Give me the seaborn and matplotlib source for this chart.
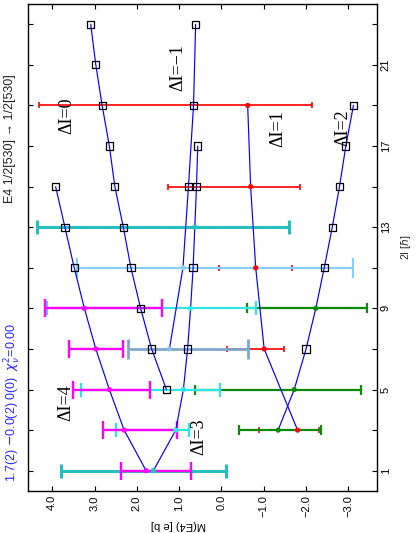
import numpy as np
import pandas as pd
import matplotlib
matplotlib.use("Agg")
import matplotlib.pyplot as plt
import seaborn as sns

# ---- model curves: 2I of the initial state and reduced matrix element M(E4) [e b]
spin_d0 = [23, 21, 19, 17, 15, 13, 11, 9, 7, 5]
m_d0 = [3.09, 2.97, 2.82, 2.65, 2.52, 2.32, 2.14, 1.91, 1.65, 1.30]
spin_dm1 = [23, 19, 15, 11, 7]
m_dm1 = [0.61, 0.66, 0.78, 0.91, 1.23]
spin_d1 = [19, 15, 11, 7, 3]
m_d1 = [-0.62, -0.69, -0.81, -1.01, -1.80]
spin_d2 = [19, 17, 15, 13, 11, 9, 7, 5, 3]
m_d2 = [-3.12, -2.94, -2.79, -2.62, -2.43, -2.23, -2.00, -1.72, -1.34]
spin_d3 = [17, 15, 13, 11, 9, 7, 5, 3, 1]
m_d3 = [0.56, 0.59, 0.63, 0.67, 0.73, 0.80, 0.90, 1.08, 1.61]
spin_d4 = [15, 13, 11, 9, 7, 5, 3, 1]
m_d4 = [3.92, 3.70, 3.48, 3.24, 2.97, 2.65, 2.30, 1.78]

# ---- measured values (centre, upper and lower end of the error bar)
red_spin = [19, 15, 11, 7, 3]
red_m = [-0.62, -0.69, -0.81, -1.01, -1.80]
red_hi = [4.31, 1.27, 0.05, -0.14, -0.89]
red_lo = [-2.15, -1.86, -1.66, -1.48, -2.30]

green_spin = [9, 5, 3]
green_m = [-2.23, -1.72, -1.34]
green_hi = [-0.60, 0.63, -0.41]
green_lo = [-3.43, -3.31, -2.35]

cyan_spin = [9, 5, 3]
cyan_m = [0.73, 0.90, 1.08]
cyan_hi = [4.12, 3.33, 2.50]
cyan_lo = [-0.81, 0.03, 0.76]

teal_spin = [13, 1]
teal_m = [0.63, 1.61]
teal_hi = [4.35, 3.80]
teal_lo = [-1.60, -0.11]

lblue_spin = [11]
lblue_m = [0.91]
lblue_hi = [3.42]
lblue_lo = [-3.12]

sblue_spin = [7]
sblue_m = [1.23]
sblue_hi = [2.20]
sblue_lo = [-0.63]

mag_spin = [9, 7, 5, 3, 1]
mag_m = [3.24, 2.97, 2.65, 2.30, 1.78]
mag_hi = [4.16, 3.60, 3.52, 2.79, 2.38]
mag_lo = [1.41, 2.32, 1.69, 1.06, 0.73]

m_ticks = [4, 3, 2, 1, 0, -1, -2, -3]
m_ticklabels = ["4.0", "3.0", "2.0", "1.0", "0.0", "\u22121.0", "\u22122.0", "\u22123.0"]
spin_ticks = list(range(1, 24, 2))
spin_ticklabels = ["1", "", "5", "", "9", "", "13", "", "17", "", "21", ""]

labels_dI = ["\u0394I=0", "\u0394I=\u22121", "\u0394I=1", "\u0394I=2", "\u0394I=3", "\u0394I=4"]

sns.set_theme(style="white")
plt.rcParams["font.family"] = ["Liberation Sans", "DejaVu Sans"]
plt.rcParams["mathtext.fontset"] = "dejavusans"

fig = plt.figure(figsize=(4.19, 5.33), dpi=100)
W, H = 419, 533
x0, x1, y0, y1 = 27.7, 376.7, 4.0, 491.0
ax = fig.add_axes([x0 / W, 1 - y1 / H, (x1 - x0) / W, (y1 - y0) / H])

# theory curves (the whole figure is drawn turned by 90 degrees:
# M(E4) runs along the horizontal axis, 2I along the vertical one)
curves = pd.concat([
    pd.DataFrame({"twoI": s, "M": m, "curve": k})
    for k, (s, m) in enumerate([(spin_d0, m_d0), (spin_dm1, m_dm1), (spin_d1, m_d1),
                                (spin_d2, m_d2), (spin_d3, m_d3), (spin_d4, m_d4)])
])
sns.lineplot(data=curves, x="M", y="twoI", units="curve", estimator=None, sort=False,
             color="#0000ff", linewidth=0.85, ax=ax, zorder=3)


def bars(spin, m, hi, lo, color, lw, cap, z):
    """Horizontal error bars running from lo to hi around the centre m."""
    m = np.asarray(m)
    hi = np.asarray(hi)
    lo = np.asarray(lo)
    ax.errorbar(m, spin, xerr=[m - lo, hi - m], fmt="none", ecolor=color,
                elinewidth=lw, capsize=cap, capthick=lw, zorder=z)


bars(red_spin, red_m, red_hi, red_lo, "#ff0000", 1.2, 2.4, 2.0)
bars(green_spin, green_m, green_hi, green_lo, "#0a8a0a", 1.6, 3.4, 2.1)
bars(teal_spin, teal_m, teal_hi, teal_lo, "#26bfbf", 2.2, 5.2, 2.2)
bars(cyan_spin, cyan_m, cyan_hi, cyan_lo, "#2ee6e6", 1.6, 4.8, 2.25)
bars(lblue_spin, lblue_m, lblue_hi, lblue_lo, "#87cefa", 1.5, 7.4, 2.3)
bars(sblue_spin, sblue_m, sblue_hi, sblue_lo, "#7fa7ca", 2.0, 7.0, 2.3)
bars(mag_spin, mag_m, mag_hi, mag_lo, "#ff00ff", 1.7, 6.5, 2.4)

# open squares: model values without a measurement
sq = pd.concat([
    pd.DataFrame({"twoI": spin_d0, "M": m_d0}),
    pd.DataFrame({"twoI": spin_dm1[:3], "M": m_dm1[:3]}),
    pd.DataFrame({"twoI": [17, 15, 11, 7], "M": [m_d3[0], m_d3[1], m_d3[3], m_d3[5]]}),
    pd.DataFrame({"twoI": spin_d4[:3], "M": m_d4[:3]}),
    pd.DataFrame({"twoI": [19, 17, 15, 13, 11, 7], "M": m_d2[:5] + [m_d2[6]]}),
])
sns.scatterplot(data=sq, x="M", y="twoI", marker="s", s=27, facecolor="none",
                edgecolor="black", linewidth=0.9, ax=ax, zorder=4)

# filled dots: model values at the measured points
dots = pd.concat([
    pd.DataFrame({"twoI": red_spin, "M": red_m, "set": "red"}),
    pd.DataFrame({"twoI": green_spin, "M": green_m, "set": "green"}),
    pd.DataFrame({"twoI": teal_spin, "M": teal_m, "set": "teal"}),
    pd.DataFrame({"twoI": cyan_spin, "M": cyan_m, "set": "cyan"}),
    pd.DataFrame({"twoI": lblue_spin, "M": lblue_m, "set": "lblue"}),
    pd.DataFrame({"twoI": sblue_spin, "M": sblue_m, "set": "sblue"}),
    pd.DataFrame({"twoI": mag_spin, "M": mag_m, "set": "mag"}),
])
pal = {"red": "#ff0000", "green": "#0a8a0a", "teal": "#26bfbf", "cyan": "#2ee6e6",
       "lblue": "#87cefa", "sblue": "#8fbfe8", "mag": "#ff00ff"}
sns.scatterplot(data=dots, x="M", y="twoI", hue="set", palette=pal, s=14,
                linewidth=0, legend=False, ax=ax, zorder=5)

# axes, drawn sideways
ax.set_xlim(4.58, -3.67)
ax.set_ylim(0.0, 24.0)
ax.set_xticks(m_ticks)
ax.set_xticklabels(m_ticklabels, rotation=90, fontsize=8)
ax.set_yticks(spin_ticks)
ax.set_yticklabels(spin_ticklabels, rotation=90, va="center", fontsize=8)
ax.yaxis.tick_right()
ax.tick_params(axis="both", which="both", direction="in", length=3.6, width=0.8,
               top=True, bottom=True, left=True, right=True, pad=3, colors="black")
ax.tick_params(axis="y", labelleft=False, labelright=True)
ax.set_xlabel("")
ax.set_ylabel(r"2I [$\hbar$]", fontsize=7.5, rotation=90, labelpad=6)
ax.yaxis.set_label_position("right")
for s in ax.spines.values():
    s.set_color("black")
    s.set_linewidth(1.0)

# curve labels
lab_pos = [(66.5, 116), (177.5, 68), (277.5, 129), (342.5, 128), (199, 437), (66, 403)]
for txt, (px, py) in zip(labels_dI, lab_pos):
    fig.text(px / W, 1 - py / H, txt, rotation=90, ha="center", va="center",
             fontsize=13, family="Liberation Serif", color="black")

# side texts
fig.text(10 / W, 1 - 139 / H, "E4 1/2[530] \u2192 1/2[530]", rotation=90,
         ha="center", va="center", fontsize=9, color="#222222",
         family=["Liberation Sans", "DejaVu Sans"])
fig.text(13 / W, 1 - 403 / H, r"1.7(2) $-$0.0(2) 0(0)  $\chi^2_\nu$=0.00", rotation=90,
         ha="center", va="center", fontsize=9, color="#2a2aff")
fig.text(178 / W, 1 - 525 / H, "M(E4) [e b]", rotation=180, ha="center", va="center",
         fontsize=8, color="black")

fig.savefig("out.png", dpi=100)
